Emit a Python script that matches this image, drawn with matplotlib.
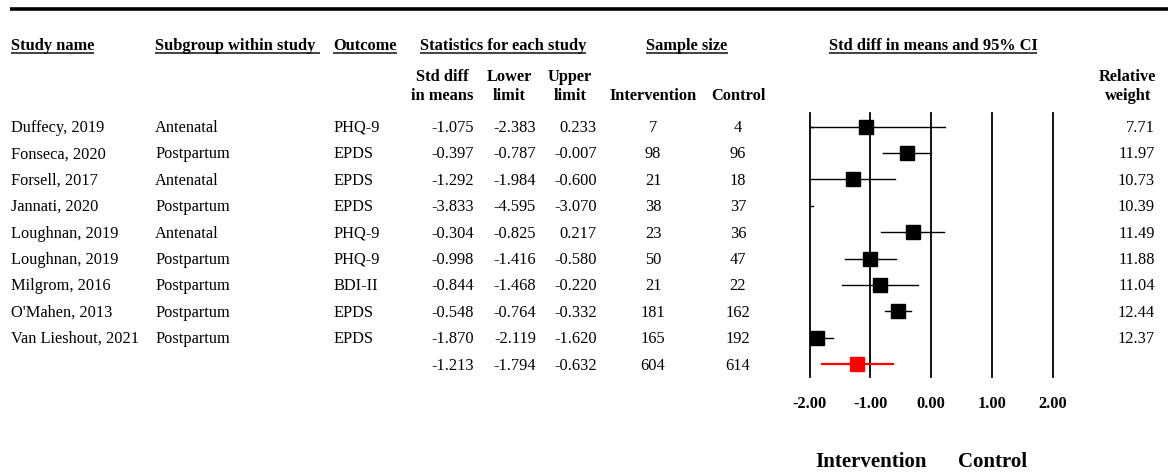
import numpy as np
import matplotlib
matplotlib.use("Agg")
import matplotlib.pyplot as plt

studies = ["Duffecy, 2019", "Fonseca, 2020", "Forsell, 2017", "Jannati, 2020",
           "Loughnan, 2019", "Loughnan, 2019", "Milgrom, 2016", "O'Mahen, 2013",
           "Van Lieshout, 2021"]
subgroups = ["Antenatal", "Postpartum", "Antenatal", "Postpartum", "Antenatal",
             "Postpartum", "Postpartum", "Postpartum", "Postpartum"]
outcomes = ["PHQ-9", "EPDS", "EPDS", "EPDS", "PHQ-9", "PHQ-9", "BDI-II", "EPDS", "EPDS"]
smd = [-1.075, -0.397, -1.292, -3.833, -0.304, -0.998, -0.844, -0.548, -1.870]
lower = [-2.383, -0.787, -1.984, -4.595, -0.825, -1.416, -1.468, -0.764, -2.119]
upper = [0.233, -0.007, -0.600, -3.070, 0.217, -0.580, -0.220, -0.332, -1.620]
n_int = [7, 98, 21, 38, 23, 50, 21, 181, 165]
n_ctl = [4, 96, 18, 37, 36, 47, 22, 162, 192]
weights = [7.71, 11.97, 10.73, 10.39, 11.49, 11.88, 11.04, 12.44, 12.37]

pooled_smd, pooled_lower, pooled_upper = -1.213, -1.794, -0.632
pooled_int, pooled_ctl = 604, 614

ticks = [-2.0, -1.0, 0.0, 1.0, 2.0]

W, H = 1168, 474
plt.rcParams['font.family'] = ['Liberation Serif', 'DejaVu Serif']
FS = 11.8
BASE = 5.4  # baseline offset below the visual centre of a line

fig = plt.figure(figsize=(W / 100, H / 100), dpi=100)
bg = fig.add_axes([0, 0, 1, 1])
bg.set_xlim(0, W)
bg.set_ylim(H, 0)
bg.axis('off')


def txt(x, y, s, ha='left', bold=False, size=FS):
    return bg.text(x, y + BASE * size / FS, s, ha=ha, va='baseline', fontsize=size,
                   fontweight='bold' if bold else 'normal')


# row layout (pixels)
row0, row_h = 126.5, 26.4
def row_y(i):
    return row0 + i * row_h

# top rule
bg.plot([10, W], [9, 9], color='black', lw=2.6, solid_capstyle='butt')

# headers
hdr_y = 44.5
under_y = 52.5
headers = [
    ("Study name", 11, 'left'),
    ("Subgroup within study ", 155, 'left'),
    ("Outcome", 333, 'left'),
    ("Statistics for each study", 503, 'center'),
    ("Sample size", 687, 'center'),
    ("Std diff in means and 95% CI", 933, 'center'),
]
hdr_texts = [txt(x, hdr_y, s, ha=ha, bold=True) for s, x, ha in headers]

sub_y1, sub_y2 = 76, 94.5
txt(442, sub_y1, "Std diff", 'center', True)
txt(442, sub_y2, "in means", 'center', True)
txt(509, sub_y1, "Lower", 'center', True)
txt(509, sub_y2, "limit", 'center', True)
txt(570, sub_y1, "Upper", 'center', True)
txt(570, sub_y2, "limit", 'center', True)
txt(653, sub_y2, "Intervention", 'center', True)
txt(738, sub_y2, "Control", 'center', True)
txt(1127, sub_y1, "Relative", 'center', True)
txt(1128, sub_y2, "weight", 'center', True)

# table rows
for i in range(len(studies)):
    y = row_y(i)
    txt(11, y, studies[i])
    txt(155, y, subgroups[i])
    txt(333, y, outcomes[i])
    txt(474, y, f"{smd[i]:.3f}", 'right')
    txt(536, y, f"{lower[i]:.3f}", 'right')
    txt(597, y, f"{upper[i]:.3f}", 'right')
    txt(653, y, str(n_int[i]), 'center')
    txt(738, y, str(n_ctl[i]), 'center')
    txt(1155, y, f"{weights[i]:.2f}", 'right')

yp = row_y(len(studies))
txt(474, yp, f"{pooled_smd:.3f}", 'right')
txt(536, yp, f"{pooled_lower:.3f}", 'right')
txt(597, yp, f"{pooled_upper:.3f}", 'right')
txt(653, yp, str(pooled_int), 'center')
txt(738, yp, str(pooled_ctl), 'center')

# forest axes
x_left_px, x_right_px = 809.5, 1052.5
top_px, bot_px = 112.5, 377
ax = fig.add_axes([x_left_px / W, 1 - bot_px / H,
                   (x_right_px - x_left_px) / W, (bot_px - top_px) / H])
ax.set_xlim(ticks[0], ticks[-1])
ax.set_ylim((bot_px - row0) / row_h, (top_px - row0) / row_h)
ax.axis('off')
ax.patch.set_alpha(0)

for t in ticks:
    ax.axvline(t, color='black', lw=1.3, clip_on=False)

rows = np.arange(len(studies))
for i in rows:
    ax.plot([lower[i], upper[i]], [i, i], color='black', lw=1.0)
    if lower[i] < ticks[0]:
        ax.plot([ticks[0], ticks[0] + 0.05], [i, i], color='black', lw=1.0)
ax.plot(smd, rows, 's', color='black', markersize=9.4)
ax.plot([pooled_lower, pooled_upper], [len(studies)] * 2, color='red', lw=1.6)
ax.plot([pooled_smd], [len(studies)], 's', color='red', markersize=9.4)

for t in ticks:
    x_px = x_left_px + (t - ticks[0]) / (ticks[-1] - ticks[0]) * (x_right_px - x_left_px)
    txt(x_px, 402.5, f"{t:.2f}", 'center', True)

txt(871, 460.5, "Intervention", 'center', True, 15)
txt(993, 460.5, "Control", 'center', True, 15)

# underline headers
fig.canvas.draw()
renderer = fig.canvas.get_renderer()
inv = bg.transData.inverted()
for t in hdr_texts:
    bb = t.get_window_extent(renderer)
    (x0, _), (x1, _) = inv.transform([[bb.x0, bb.y0], [bb.x1, bb.y1]])
    bg.plot([x0, x1], [under_y, under_y], color='#222222', lw=1.2, solid_capstyle='butt')

fig.savefig("out.png", dpi=100)
